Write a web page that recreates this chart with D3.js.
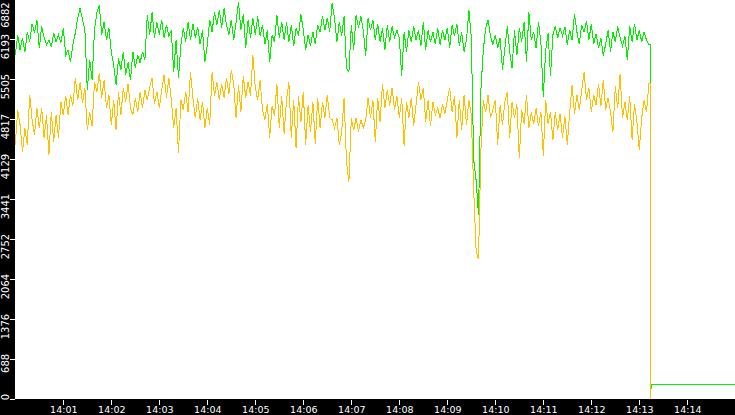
<!DOCTYPE html>
<html>
<head>
<meta charset="utf-8">
<script src="https://cdn.jsdelivr.net/npm/d3@7"></script>
<style>
  html, body { margin: 0; padding: 0; background: #000; overflow: hidden; }
  svg { display: block; }
  .axis text { fill: #fff; font-family: 'DejaVu Sans', sans-serif; }
  .axis line { stroke: #fff; }
  .series { fill: none; stroke-width: 1; shape-rendering: crispEdges; }
</style>
</head>
<body>
<svg id="chart" width="735" height="415"></svg>
<script>
/* global d3 */

// one sample every 3 seconds, starting at 14:00:00
var stepSec = 3;

var greenValues = [
  5920, 6270, 6010, 6220, 5980, 6320, 6150, 6460, 6300, 6530, 6040, 6420, 6220, 6100, 6180, 6060, 6300, 6150, 6270, 6130,
  6390, 5920, 6010, 5800, 6100, 6300, 6560, 6730, 6530, 6350, 5320, 5840, 5490, 6350, 6660, 6780, 6270, 6490, 6180, 6390,
  5980, 5750, 5410, 5870, 5670, 5980, 5580, 5800, 5490, 5980, 5700, 5920, 5790, 5980, 5840, 6610, 6270, 6660, 6220, 6490,
  6270, 6530, 6220, 6440, 6250, 6350, 5630, 6180, 5530, 6100, 6390, 6150, 6490, 6180, 6460, 6220, 6410, 6110, 6350, 5800,
  6100, 6530, 6320, 6660, 6440, 6700, 6390, 6730, 6440, 6270, 6530, 6180, 6490, 6840, 6350, 6630, 6040, 6530, 6220, 6560,
  6270, 6590, 6250, 6440, 6110, 6350, 5800, 6270, 6150, 6610, 6220, 6490, 6180, 6490, 6150, 6440, 6080, 6390, 6250, 6630,
  6350, 6010, 6270, 6080, 6320, 6110, 6440, 6320, 6590, 6350, 6560, 6320, 6820, 6560, 6150, 6490, 6250, 6590, 5700, 5630,
  6440, 6010, 6610, 6390, 6590, 6350, 5910, 6560, 6350, 6530, 6180, 6460, 6150, 6390, 6010, 6440, 6150, 6420, 6220, 6350,
  6220, 5560, 6320, 5980, 6350, 6150, 6420, 6180, 6350, 6080, 6490, 6010, 6350, 6150, 6320, 6110, 6390, 6100, 6350, 6180,
  6390, 6040, 6440, 6250, 6460, 6080, 6320, 5980, 6180, 6700, 6220, 4120, 3770, 3170, 5320, 6010, 6390, 6530, 6250, 6100,
  6270, 6040, 6220, 5670, 6040, 6420, 5980, 5700, 6350, 5920, 6390, 6150, 6490, 5800, 6660, 6180, 6320, 6040, 6490, 6150,
  5200, 6010, 6300, 5560, 6270, 6420, 6220, 6390, 6250, 6410, 6100, 6350, 6180, 6630, 6320, 6110, 6440, 6320, 6510, 6180,
  6460, 6110, 6290, 6040, 6220, 5910, 6110, 6350, 5980, 6320, 6150, 6420, 6220, 6080, 6250, 5840, 6420, 6150, 6460, 6180,
  6350, 6150, 6320, 6180, 6100
];

var yellowValues = [
  4380, 4980, 4720, 4260, 4670, 4380, 5240, 4810, 4550, 5010, 4670, 5010, 4500, 4890, 4200, 4940, 4430, 4890, 4500, 5120,
  4890, 5220, 4890, 5240, 5050, 5530, 5150, 5460, 5100, 5360, 4630, 4940, 4700, 5460, 5290, 5610, 5190, 5490, 5010, 5240,
  4720, 5150, 4630, 5290, 4890, 5360, 5120, 5430, 5010, 4890, 5190, 4940, 5290, 5010, 5320, 5150, 5370, 5530, 5080, 5290,
  5010, 5320, 5580, 5190, 5530, 5150, 4670, 5010, 4240, 5150, 4980, 5290, 4940, 5630, 5190, 4840, 5190, 4810, 5120, 4670,
  5010, 4720, 5630, 5220, 5460, 5150, 5430, 5190, 5530, 5250, 5670, 5430, 4840, 5410, 4940, 5560, 5190, 5460, 5220, 5920,
  5360, 5150, 5490, 4980, 4810, 5080, 4500, 5050, 4880, 5430, 4670, 5220, 4570, 5150, 5460, 4500, 5150, 4320, 5220, 4770,
  5290, 4380, 5060, 4600, 5120, 4390, 5190, 4670, 5120, 4840, 5240, 4840, 4810, 4670, 4840, 4380, 4600, 5190, 4080, 3740,
  4840, 4630, 4840, 4600, 4810, 4670, 4810, 5190, 4840, 5150, 4430, 5190, 4770, 5430, 5010, 5320, 5050, 5360, 4980, 5220,
  4840, 5190, 4360, 5120, 4840, 5190, 4700, 5080, 5460, 5150, 5360, 4770, 5150, 4700, 5120, 4890, 5010, 4840, 5080, 4910,
  5150, 5360, 4940, 5220, 4500, 5150, 4630, 5240, 4720, 5150, 4890, 3600, 2560, 2410, 4290, 5150, 4940, 5240, 4840, 4980,
  5150, 4380, 5060, 4720, 5120, 5290, 4500, 5120, 4840, 5080, 4150, 4980, 4740, 5240, 4670, 4940, 4740, 5010, 4700, 4940,
  4190, 5150, 4740, 4940, 4460, 4940, 4630, 4910, 4500, 4870, 4380, 4940, 5410, 4910, 5240, 4980, 5320, 5630, 5150, 5360,
  4940, 5240, 5060, 5430, 5050, 5490, 4980, 5190, 4940, 4600, 5390, 5010, 5600, 4840, 5120, 4810, 5220, 4460, 5080, 4770,
  4290, 4840, 5150, 4940, 5440
];

// after the feed stops (seconds after 14:00): last reading held, then the drop
var greenTailSec = [793.6, 793.6, 794.2, 795.5, 900];
var greenTail = [6100, 2720, 130, 260, 260];
var yellowTailSec = [793.6, 793.6, 900];
var yellowTail = [5440, 0, 0];

var yTicks = [0, 688, 1376, 2064, 2752, 3441, 4129, 4817, 5505, 6193, 6882];
var xTickLabels = ['14:01', '14:02', '14:03', '14:04', '14:05', '14:06', '14:07',
  '14:08', '14:09', '14:10', '14:11', '14:12', '14:13', '14:14'];

var width = 735,
  height = 415,
  left = 15,
  bottom = 399;

var parse = d3.timeParse('%H:%M');
var start = parse('14:00'),
  end = parse('14:15');

var x = d3.scaleTime().domain([start, end]).range([15.3, 735.3]);
var y = d3.scaleLinear().domain([0, 6882]).range([399.3, -0.7]);

var svg = d3.select('#chart');

svg.append('rect')
  .attr('width', width).attr('height', height)
  .attr('fill', '#000');
svg.append('rect')
  .attr('x', left).attr('y', 0)
  .attr('width', width - left).attr('height', bottom)
  .attr('fill', '#fff');

svg.append('clipPath').attr('id', 'plot-clip')
  .append('rect')
  .attr('x', left).attr('y', 0)
  .attr('width', width - left).attr('height', bottom);

function buildSeries(values, tailSec, tail) {
  var pts = values.map((v, i) => ({ t: new Date(+start + i * stepSec * 1000), v: v }));
  tailSec.forEach((s, i) => pts.push({ t: new Date(+start + s * 1000), v: tail[i] }));
  return pts;
}

var line = d3.line()
  .x(d => x(d.t))
  .y(d => y(d.v));

var plot = svg.append('g').attr('clip-path', 'url(#plot-clip)');

plot.append('path')
  .datum(buildSeries(greenValues, greenTailSec, greenTail))
  .attr('class', 'series')
  .attr('stroke', '#00f000')
  .attr('d', line);

// drawn last so its drop covers the green one
plot.append('path')
  .datum(buildSeries(yellowValues, yellowTailSec, yellowTail))
  .attr('class', 'series')
  .attr('stroke', '#ffc000')
  .attr('d', line);

// y axis: rotated labels sitting just under each tick
var yAxis = svg.append('g')
  .attr('class', 'axis')
  .attr('transform', `translate(${left},0)`)
  .style('shape-rendering', 'crispEdges')
  .call(d3.axisLeft(y).tickValues(yTicks).tickSize(5).tickFormat(d3.format('d')));
yAxis.select('.domain').remove();
yAxis.selectAll('text')
  .attr('x', null).attr('dy', null)
  .attr('font-size', 10)
  .attr('text-anchor', 'end')
  .attr('transform', d => `translate(-6,${Math.max(-6, 1.8 - y(d))}) rotate(-90)`);

// x axis
var xAxis = svg.append('g')
  .attr('class', 'axis')
  .attr('transform', `translate(0,${bottom + 0.5})`)
  .style('shape-rendering', 'crispEdges')
  .call(d3.axisBottom(x).tickValues(xTickLabels.map(parse)).tickSize(5).tickFormat(d3.timeFormat('%H:%M')));
xAxis.select('.domain').remove();
xAxis.selectAll('text')
  .attr('y', 7)
  .attr('font-size', 9.5);
</script>
</body>
</html>
